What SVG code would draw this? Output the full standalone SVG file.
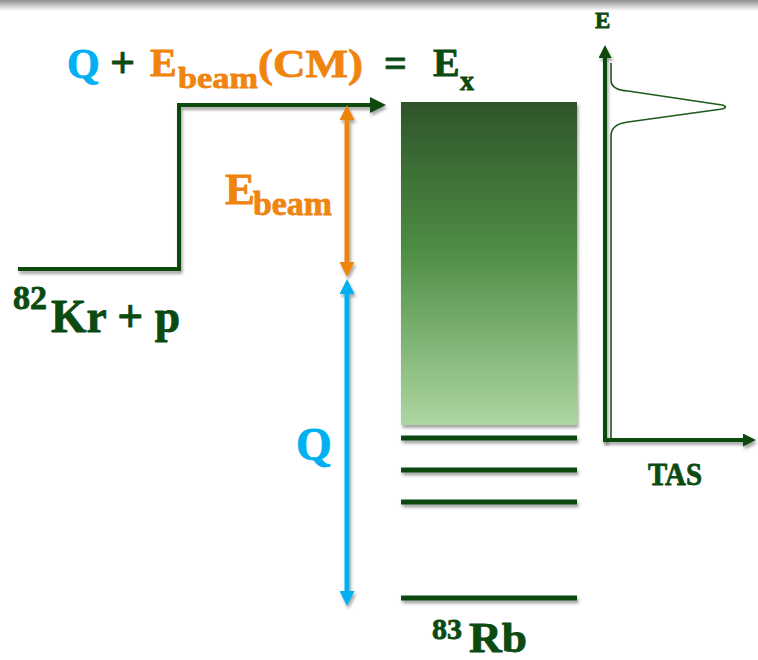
<svg xmlns="http://www.w3.org/2000/svg" width="758" height="660" viewBox="0 0 758 660">
<defs>
<style>
.t{font-family:"Liberation Serif","Times New Roman",serif;font-weight:bold;stroke-width:0.8;stroke-linejoin:round}
.g{fill:#0b4a10;stroke:#0b4a10}
.o{fill:#ef840f;stroke:#ef840f}
.b{fill:#00b0f0;stroke:#00b0f0}
.ln{stroke:#0b4a10;stroke-width:4;fill:none}
.lv{stroke:#0b4a10;stroke-width:5}
</style>
<linearGradient id="top" x1="0" y1="0" x2="0" y2="1">
<stop offset="0" stop-color="#8e8e8e"/>
<stop offset="1" stop-color="#ffffff"/>
</linearGradient>
<linearGradient id="box" x1="0" y1="0" x2="0" y2="1">
<stop offset="0" stop-color="#2e552a"/>
<stop offset="0.45" stop-color="#4d8c43"/>
<stop offset="1" stop-color="#acd7a1"/>
</linearGradient>
<filter id="sh" filterUnits="userSpaceOnUse" x="0" y="0" width="758" height="660">
<feDropShadow dx="1.5" dy="3" stdDeviation="1.8" flood-color="#000" flood-opacity="0.35"/>
</filter>
<marker id="ag" viewBox="0 0 10 10" refX="0" refY="5" markerUnits="userSpaceOnUse" markerWidth="16" markerHeight="17" orient="auto-start-reverse"><path d="M0,0 L10,5 L0,10 z" fill="#0b4a10"/></marker>
<marker id="aa" viewBox="0 0 10 10" refX="0" refY="5" markerUnits="userSpaceOnUse" markerWidth="15" markerHeight="13" orient="auto-start-reverse"><path d="M0,0 L10,5 L0,10 z" fill="#0b4a10"/></marker>
<marker id="ao" viewBox="0 0 10 10" refX="0" refY="5" markerUnits="userSpaceOnUse" markerWidth="15" markerHeight="15" orient="auto-start-reverse"><path d="M0,0 L10,5 L0,10 z" fill="#ef840f"/></marker>
<marker id="ab" viewBox="0 0 10 10" refX="0" refY="5" markerUnits="userSpaceOnUse" markerWidth="15" markerHeight="15" orient="auto-start-reverse"><path d="M0,0 L10,5 L0,10 z" fill="#00b0f0"/></marker>
</defs>
<rect x="0" y="0" width="758" height="11" fill="url(#top)"/>

<g id="title">
<text class="t b" x="67" y="78" font-size="42">Q</text>
<text class="t g" x="110" y="77" font-size="44">+</text>
<text class="t o" x="150" y="76" font-size="40">E</text>
<text class="t o" x="178" y="88" font-size="30" textLength="80" lengthAdjust="spacingAndGlyphs">beam</text>
<text class="t o" x="258" y="77" font-size="40" textLength="105" lengthAdjust="spacingAndGlyphs">(CM)</text>
<text class="t g" x="384" y="77" font-size="40">=</text>
<text class="t g" x="433" y="76" font-size="40">E</text>
<text class="t g" x="460" y="90" font-size="28">x</text>
</g>

<g id="reactants">
<text class="t g" x="13" y="309" font-size="34">82</text>
<text class="t g" x="51" y="332" font-size="46" textLength="129" lengthAdjust="spacingAndGlyphs">Kr + p</text>
</g>

<g id="ebeam-label">
<text class="t o" x="225" y="204" font-size="45">E</text>
<text class="t o" x="253" y="215" font-size="34" textLength="79" lengthAdjust="spacingAndGlyphs">beam</text>
</g>

<g id="q-label">
<text class="t b" x="296" y="460" font-size="46">Q</text>
</g>

<g id="states">
<rect x="401" y="102" width="176" height="323" fill="url(#box)" filter="url(#sh)"/>
<line class="lv" x1="401" y1="438" x2="577" y2="438" filter="url(#sh)"/>
<line class="lv" x1="401" y1="470" x2="577" y2="470" filter="url(#sh)"/>
<line class="lv" x1="401" y1="502" x2="577" y2="502" filter="url(#sh)"/>
<line class="lv" x1="401" y1="598" x2="577" y2="598" filter="url(#sh)"/>
<text class="t g" x="432" y="639" font-size="30">83</text>
<text class="t g" x="469" y="652" font-size="42" textLength="58" lengthAdjust="spacingAndGlyphs">Rb</text>
</g>

<g id="tas">
<text class="t g" x="595" y="28" font-size="23">E</text>
<text class="t g" x="648" y="485" font-size="32" textLength="54" lengthAdjust="spacingAndGlyphs">TAS</text>
<path d="M611,63 V80 Q611,90 628,91 L722,105 Q729,107 722,109 L628,122 Q611,124 611,136 V440" fill="none" stroke="#1e5a1e" stroke-width="1.6"/>
</g>

<g id="connectors">
<path class="ln" d="M18,269 H179 V105 H370" marker-end="url(#ag)" filter="url(#sh)"/>
<line x1="347" y1="120" x2="347" y2="262" stroke="#ef840f" stroke-width="5" marker-start="url(#ao)" marker-end="url(#ao)" filter="url(#sh)"/>
<line x1="347" y1="294" x2="347" y2="591" stroke="#00b0f0" stroke-width="5" marker-start="url(#ab)" marker-end="url(#ab)" filter="url(#sh)"/>
<line x1="605" y1="442" x2="605" y2="58" stroke="#0b4a10" stroke-width="4" marker-end="url(#aa)" filter="url(#sh)"/>
<line x1="603" y1="440" x2="743" y2="440" stroke="#0b4a10" stroke-width="4" marker-end="url(#aa)" filter="url(#sh)"/>
</g>
</svg>
